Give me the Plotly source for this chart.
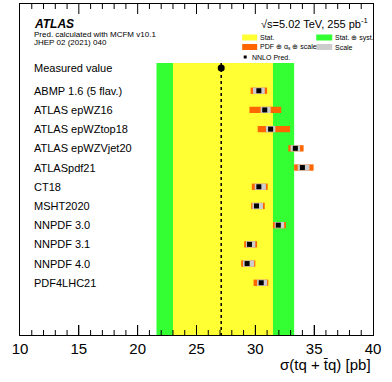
import plotly.graph_objects as go

# ---- data ----
pdf_sets = ["ABMP 1.6 (5 flav.)", "ATLAS epWZ16", "ATLAS epWZtop18", "ATLAS epWZVjet20",
            "ATLASpdf21", "CT18", "MSHT2020", "NNPDF 3.0", "NNPDF 3.1", "NNPDF 4.0", "PDF4LHC21"]
pred_central = [30.3, 30.8, 31.3, 33.4, 34.0, 30.3, 30.1, 31.95, 29.5, 29.3, 30.5]
pdf_lo = [29.6, 29.5, 30.2, 32.8, 33.3, 29.7, 29.65, 31.5, 29.05, 28.8, 29.85]
pdf_hi = [31.0, 32.2, 32.95, 34.1, 34.95, 31.05, 30.8, 32.6, 30.15, 30.0, 31.1]
scale_lo = [29.8, 30.45, 30.9, 33.0, 33.6, 29.95, 29.75, 31.65, 29.2, 28.95, 30.15]
scale_hi = [30.8, 31.3, 31.7, 33.8, 34.6, 30.9, 30.65, 32.45, 30.0, 29.9, 31.0]

measured = 27.1
stat_lo, stat_hi = 23.0, 31.5
tot_lo, tot_hi = 21.6, 33.3

x_min, x_max, x_major, x_minor = 10, 40, 5, 1
major_ticks = list(range(x_min, x_max + 1, x_major))
minor_ticks = [v for v in range(x_min, x_max + 1, x_minor) if v not in major_ticks]

# ---- layout helpers ----
W, H = 392, 382
L, R, T, B = 20, 372.7, 4, 335
PLOT_H = B - T
def px(x):
    return (x - L) / (R - L)
def py(y):
    return (B - y) / (B - T)

rows = list(range(len(pdf_sets)))
meas_row = -1.18
band_top = -1.44
y_bottom = 12.72
y_top = -4.516
band_center = (band_top + y_bottom) / 2
band_height = y_bottom - band_top
units_per_px = (y_bottom - y_top) / PLOT_H

YELLOW = "#ffff33"
GREEN = "#33ff33"
ORANGE = "#ff6600"
GREY = "#cccccc"

fig = go.Figure()

# total band
fig.add_trace(go.Bar(orientation="h", y=[band_center], base=[tot_lo], x=[tot_hi - tot_lo],
                     width=band_height, marker=dict(color=GREEN, line=dict(width=0)),
                     hoverinfo="skip", showlegend=False))
# stat band
fig.add_trace(go.Bar(orientation="h", y=[band_center], base=[stat_lo], x=[stat_hi - stat_lo],
                     width=band_height, marker=dict(color=YELLOW, line=dict(width=0)),
                     hoverinfo="skip", showlegend=False))
# PDF+scale bars
fig.add_trace(go.Bar(orientation="h", y=rows,
                     base=pdf_lo, x=[h - l for l, h in zip(pdf_lo, pdf_hi)],
                     width=0.33, marker=dict(color=ORANGE, line=dict(width=0)),
                     showlegend=False))
# scale bars
fig.add_trace(go.Bar(orientation="h", y=rows,
                     base=scale_lo, x=[h - l for l, h in zip(scale_lo, scale_hi)],
                     width=0.33, marker=dict(color=GREY, line=dict(width=0)),
                     showlegend=False))
# measured line
fig.add_trace(go.Scatter(x=[measured, measured], y=[band_top, y_bottom], mode="lines",
                         line=dict(color="black", width=1.5, dash="dot"), showlegend=False))
fig.add_trace(go.Scatter(x=[measured], y=[meas_row], mode="markers",
                         marker=dict(color="black", size=7, symbol="circle"), showlegend=False))
# central predictions
fig.add_trace(go.Scatter(x=pred_central, y=rows, mode="markers",
                         marker=dict(color="black", size=5, symbol="square"), showlegend=False))

# axis tick marks (bottom + mirrored top), drawn through the axes
tx, ty = [], []
for vals, length_px in ((major_ticks, 10), (minor_ticks, 5)):
    d = length_px * units_per_px
    for v in vals:
        if v in (x_min, x_max):
            continue
        tx += [v, v, None, v, v, None]
        ty += [y_bottom, y_bottom - d, None, y_top, y_top + d, None]
fig.add_trace(go.Scatter(x=tx, y=ty, mode="lines", line=dict(color="black", width=1),
                         hoverinfo="skip", showlegend=False, cliponaxis=False))

FONT = "Liberation Sans, Arial, sans-serif"

ann = []
ann.append(dict(x=px(32), xref="paper", y=meas_row, yref="y", text="Measured value",
                showarrow=False, xanchor="left", yanchor="middle", font=dict(size=11, color="black")))
for r, name in zip(rows, pdf_sets):
    ann.append(dict(x=px(32), xref="paper", y=r, yref="y", text=name,
                    showarrow=False, xanchor="left", yanchor="middle", font=dict(size=11, color="black")))

# header texts
ann.append(dict(x=px(32), xref="paper", y=py(24), yref="paper", text="<b><i>ATLAS</i></b>",
                showarrow=False, xanchor="left", yanchor="middle", font=dict(size=12, color="black")))
ann.append(dict(x=px(32), xref="paper", y=py(34), yref="paper", text="Pred. calculated with MCFM v10.1",
                showarrow=False, xanchor="left", yanchor="middle", font=dict(size=8, color="black")))
ann.append(dict(x=px(32), xref="paper", y=py(42.5), yref="paper", text="JHEP 02 (2021) 040",
                showarrow=False, xanchor="left", yanchor="middle", font=dict(size=8, color="black")))
ann.append(dict(x=px(370), xref="paper", y=py(23), yref="paper",
                text="\u221As=5.02 TeV, 255 pb<sup>-1</sup>",
                showarrow=False, xanchor="right", yanchor="middle", font=dict(size=11, color="black")))

# legend
shapes = []
def leg_box(x0, x1, yc, color):
    shapes.append(dict(type="rect", xref="paper", yref="paper", x0=px(x0), x1=px(x1),
                       y0=py(yc + 3), y1=py(yc - 3), fillcolor=color, line=dict(width=0)))
def leg_text(x, yc, text):
    ann.append(dict(x=px(x), xref="paper", y=py(yc), yref="paper", text=text, showarrow=False,
                    xanchor="left", yanchor="middle", font=dict(size=7, color="black")))

leg_box(242, 257, 37.5, YELLOW); leg_text(257.5, 37.5, "Stat.")
leg_box(316, 332, 37.5, GREEN); leg_text(332.5, 37.5, "Stat. \u2295 syst.")
leg_box(242, 257, 47, ORANGE); leg_text(257.5, 47, "PDF \u2295 \u03B1<sub>s</sub> \u2295 scale")
leg_box(316, 332, 47, GREY); leg_text(332.5, 47, "Scale")
shapes.append(dict(type="rect", xref="paper", yref="paper", x0=px(243.5), x1=px(246.5),
                   y0=py(58.5), y1=py(55.5), fillcolor="black", line=dict(width=0)))
leg_text(250, 57, "NNLO Pred.")

# axis title
ann.append(dict(x=1, xref="paper", y=py(364), yref="paper", text="\u03C3(tq + t\u0304q) [pb]",
                showarrow=False, xanchor="right", yanchor="middle", font=dict(size=15, color="black")))

fig.update_layout(
    template="none",
    width=W, height=H,
    margin=dict(l=L, r=W - R, t=T, b=H - B, pad=0),
    paper_bgcolor="white", plot_bgcolor="white",
    font=dict(family=FONT, color="black"),
    barmode="overlay",
    showlegend=False,
    annotations=ann, shapes=shapes,
    xaxis=dict(range=[x_min, x_max], tickmode="array", tickvals=major_ticks,
               ticktext=[str(v) for v in major_ticks], showticklabels=True,
               ticks="inside", ticklen=10, tickwidth=1, tickcolor="#000000",
               showline=True, linecolor="black", linewidth=1, mirror=True,
               showgrid=False, zeroline=False, tickfont=dict(size=15)),
    yaxis=dict(range=[y_bottom, y_top], showticklabels=False, ticks="",
               showline=True, linecolor="black", linewidth=1, mirror=True,
               showgrid=False, zeroline=False),
)

fig.write_html("out.html", config={"displayModeBar": False})
with open("out.html", "r", encoding="utf-8") as f:
    html = f.read()
html = html.replace("<head>", "<head><style>html,body{margin:0;padding:0;}</style>", 1)
with open("out.html", "w", encoding="utf-8") as f:
    f.write(html)
